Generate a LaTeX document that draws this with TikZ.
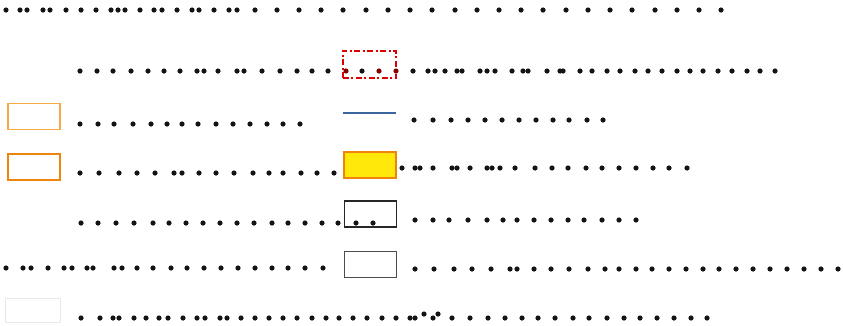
\documentclass[tikz,border=0pt]{standalone}
\usepackage{xcolor}
\usepackage{tikz}
\definecolor{lightorange}{RGB}{246,170,70}
\definecolor{deeporange}{RGB}{238,132,12}
\definecolor{keyred}{RGB}{220,0,0}
\definecolor{keyblue}{RGB}{60,100,160}
\definecolor{keyyellow}{RGB}{255,232,10}
\definecolor{darkdot}{RGB}{20,20,20}
\definecolor{faintgray}{RGB}{232,232,232}

\begin{document}
\begin{tikzpicture}[x=1pt,y=-1pt,
    swatch/.style={minimum width=52pt,minimum height=26pt,inner sep=0pt,line width=1.5pt},
    dot/.style={fill=darkdot}]
  \useasboundingbox (0,0) rectangle (843,325);
  % key swatches
  \node[swatch] (redkey) at (369.5,64.5) {};
  \draw[keyred,line width=1.8pt,dash pattern=on 6pt off 2.5pt on 2pt off 2.5pt] (redkey.south west) rectangle (redkey.north east);
  \node[swatch,draw=lightorange] (lightkey) at (34,116.5) {};
  \node[swatch,draw=deeporange,line width=2pt] (orangekey) at (33.5,166.5) {};
  \node[swatch,draw=deeporange,fill=keyyellow] (yellowkey) at (370,165) {};
  \node[swatch,draw=black!85] (blackkey) at (370.5,214) {};
  \node[swatch,draw=black!70] (graykey) at (370.5,264.5) {};
  \node[swatch,draw=faintgray,line width=1pt,minimum width=55pt,minimum height=24pt] (faintkey) at (32.5,310) {};
  \coordinate (lineA) at (343,113);
  \coordinate (lineB) at (396,113);
  \draw[keyblue,line width=1.4pt] (lineA) -- (lineB);
  % rows of dotted text
  \foreach \x in {6,20,27,43,50,66,81,96,111,118,125,140,154,162,177,192,199,214,229,237,255,277,299,321,343,366,388,410,432,455,477,499,521,543,566,588,610,632,655,677,699,721}
    { \fill[dot] (\x,10) circle[radius=2.6pt]; }
  \foreach \x in {80,97,113,131,148,164,180,197,204,218,237,244,262,280,297,312,328,362,413,428,435,445,457,462,480,487,495,512,523,528,547,560,563,580,592,607,620,635,648,662,677,690,703,718,732,747,760,775}
    { \fill[dot] (\x,71) circle[radius=2.6pt]; }
  \foreach \x in {346,379,396}
    { \fill[keyred!60!black] (\x,71) circle[radius=2.6pt]; }
  \foreach \x in {80,98,114,133,151,167,182,198,216,233,250,267,283,300}
    { \fill[dot] (\x,124) circle[radius=2.6pt]; }
  \foreach \x in {414,433,451,468,485,502,519,536,553,569,587,603}
    { \fill[dot] (\x,120) circle[radius=2.6pt]; }
  \foreach \x in {80,99,119,137,155,174,182,199,216,234,253,269,283,301,317,334}
    { \fill[dot] (\x,173) circle[radius=2.6pt]; }
  \foreach \x in {402,415,420,433,452,457,470,487,492,500,515,535,552,568,586,602,619,636,653,669,687}
    { \fill[dot] (\x,168) circle[radius=2.6pt]; }
  \foreach \x in {81,98,116,134,153,169,186,203,220,237,254,272,288,305,322,338,356,373}
    { \fill[dot] (\x,223) circle[radius=2.6pt]; }
  \foreach \x in {415,433,449,468,487,503,517,534,551,568,584,602,619,636}
    { \fill[dot] (\x,220) circle[radius=2.6pt]; }
  \foreach \x in {6,23,31,48,64,72,87,93,114,122,137,153,171,187,204,221,238,255,272,288,305,323}
    { \fill[dot] (\x,268) circle[radius=2.6pt]; }
  \foreach \x in {415,434,454,472,491,510,517,534,551,569,588,605,619,636,652,669,686,703,719,736,753,770,787,804,821,838}
    { \fill[dot] (\x,269) circle[radius=2.6pt]; }
  \foreach \x in {81,100,113,119,134,146,159,168,183,197,205,220,227,241,255,269,283,297,312,326,339,353,367,382,396,410,415,433,452,470,488,505,522,538,555,573,589,607,624,640,657,674,691,707}
    { \fill[dot] (\x,318) circle[radius=2.6pt]; }
  \foreach \x in {424,438}
    { \fill[dot] (\x,314) circle[radius=2.6pt]; }
\end{tikzpicture}
\end{document}
